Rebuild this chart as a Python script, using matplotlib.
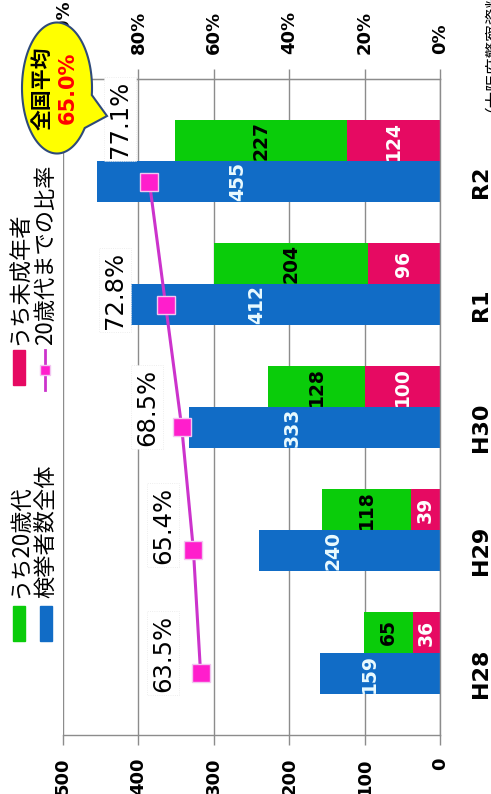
import numpy as np
import matplotlib
matplotlib.use("Agg")
import matplotlib.pyplot as plt
from matplotlib.patches import Rectangle, Polygon
from matplotlib.lines import Line2D

plt.rcParams['font.family'] = ['Noto Sans CJK JP', 'DejaVu Sans']
NUM = ['DejaVu Sans']

# ---------------- data ----------------
categories = ["H28", "H29", "H30", "R1", "R2"]
total = [159, 240, 333, 412, 455]          # 検挙者数全体
twenties = [65, 118, 128, 204, 227]        # うち20歳代
minors = [36, 39, 100, 96, 124]            # うち未成年者
ratio = [63.5, 65.4, 68.5, 72.8, 77.1]     # 20歳代までの比率 (%)
value_ticks = [0, 100, 200, 300, 400, 500]
pct_ticks = [0, 20, 40, 60, 80, 100]

# ---------------- layout / style ----------------
W, H = 491, 794
C_BLUE = '#116CC6'
C_GREEN = '#0ACC0A'
C_PINK = '#E60A62'
C_LINE = '#CC33CC'
C_MARK = '#FF1ECC'
C_GRID = '#8C8C8C'
label_dx = [10.0, 8.1, 9.2, 13.4, 7.8]
label_dy = [0.0, 0.04, 0.0, -0.05, 0.34]

fig = plt.figure(figsize=(W / 100, H / 100), dpi=100)
fig.patch.set_facecolor('white')

def fx(x):
    return x / W

def fy(y):
    return 1 - y / H

ax = fig.add_axes([fx(63), fy(735), (440 - 63) / W, (735 - 79) / H])
pos = np.arange(len(categories))
bw = 1 / 3

ax.barh(pos - bw / 2, total, height=bw, color=C_BLUE, zorder=2)
ax.barh(pos + bw / 2, minors, height=bw, color=C_PINK, zorder=2)
ax.barh(pos + bw / 2, twenties, left=minors, height=bw, color=C_GREEN, zorder=2)

ax.set_xlim(500, 0)
ax.set_ylim(-0.667, 4.667)
ax.set_xticks(value_ticks)
ax.set_xticklabels([str(v) for v in value_ticks], rotation=90, fontsize=13,
                   fontweight='bold', family=NUM)
ax.tick_params(axis='x', length=7, width=1, color=C_GRID, pad=9)
ax.xaxis.grid(True, color=C_GRID, lw=1, zorder=0)
ax.set_axisbelow(True)
ax.yaxis.tick_right()
ax.set_yticks(pos - bw / 2)
ax.set_yticklabels(categories, rotation=90, fontsize=16, fontweight='bold',
                   va='center', family=NUM)
ax.tick_params(axis='y', length=0, pad=22)
ax.spines['left'].set_visible(False)
for s in ['bottom', 'right', 'top']:
    ax.spines[s].set_color(C_GRID)
    ax.spines[s].set_linewidth(1)

# bar value labels
for i in range(len(categories)):
    ax.text(total[i] * 0.59, pos[i] - bw / 2, str(total[i]), rotation=90,
            ha='center', va='center', color='#EAFBFF', fontsize=13.5,
            fontweight='bold', family=NUM, zorder=5)
    ax.text(minors[i] / 2, pos[i] + bw / 2, str(minors[i]), rotation=90,
            ha='center', va='center', color='white', fontsize=13.5,
            fontweight='bold', family=NUM, zorder=5)
    ax.text(minors[i] + twenties[i] / 2, pos[i] + bw / 2, str(twenties[i]),
            rotation=90, ha='center', va='center', color='black',
            fontsize=13.5, fontweight='bold', family=NUM, zorder=5)

# secondary (percentage) axis
ax2 = ax.twiny()
ax2.set_xlim(100, 0)
ax2.set_xticks(pct_ticks)
ax2.set_xticklabels([f"{p}%" for p in pct_ticks], rotation=90, fontsize=13,
                    fontweight='bold', family=NUM)
ax2.tick_params(axis='x', length=7, width=1, color=C_GRID, pad=11)
for s in ['left', 'right', 'bottom']:
    ax2.spines[s].set_visible(False)
ax2.spines['top'].set_color(C_GRID)
ax2.plot(ratio, pos - bw / 2, color=C_LINE, lw=2.2, marker='s', markersize=13,
         markerfacecolor=C_MARK, markeredgecolor='#F2C6F0', markeredgewidth=1,
         zorder=6)
for i in range(len(categories)):
    ax2.text(ratio[i] + label_dx[i], pos[i] + label_dy[i], f"{ratio[i]:.1f}%",
             rotation=90, ha='center', va='center', fontsize=17.5,
             color='black', family=NUM, zorder=6,
             bbox=dict(boxstyle='square,pad=0.15', fc='white', ec='#E8E8E8',
                       lw=0.6, ls=':'))

# ---------------- legend (manual, rotated) ----------------
fig.patches.append(Rectangle((fx(13), fy(641)), 12 / W, 35 / H, color=C_GREEN,
                             transform=fig.transFigure, figure=fig))
fig.patches.append(Rectangle((fx(40), fy(641)), 12 / W, 35 / H, color=C_BLUE,
                             transform=fig.transFigure, figure=fig))
fig.patches.append(Rectangle((fx(13), fy(385)), 12 / W, 35 / H, color=C_PINK,
                             transform=fig.transFigure, figure=fig))
fig.lines.append(Line2D([fx(45), fx(45)], [fy(390), fy(350)], color=C_LINE, lw=2,
                        transform=fig.transFigure, figure=fig))
fig.lines.append(Line2D([fx(45)], [fy(370)], marker='s', markersize=7,
                        markerfacecolor=C_MARK, markeredgecolor='#F2C6F0',
                        transform=fig.transFigure, figure=fig))
fig.text(fx(20), fy(598), "うち20歳代", rotation=90, ha='center', va='bottom',
         fontsize=16)
fig.text(fx(46), fy(598), "検挙者数全体", rotation=90, ha='center', va='bottom',
         fontsize=16)
fig.text(fx(20), fy(345), "うち未成年者", rotation=90, ha='center', va='bottom',
         fontsize=16)
fig.text(fx(46), fy(345), "20歳代までの比率", rotation=90, ha='center',
         va='bottom', fontsize=16)

# ---------------- callout ----------------
cx, cy, a, b = 57, 88, 35, 65.5
tA = np.arcsin((95 - cy) / b)
tB = np.arcsin((128 - cy) / b)
ts = np.linspace(tB, tA + 2 * np.pi, 300)
pts = [(fx(cx + a * np.cos(t)), fy(cy + b * np.sin(t))) for t in ts]
pts.append((fx(107), fy(116)))
fig.patches.append(Polygon(pts, closed=True, facecolor='#FFFF00',
                           edgecolor='#2E4A7A', lw=1.5,
                           transform=fig.transFigure, figure=fig, zorder=10))
fig.text(fx(42), fy(88), "全国平均", rotation=90, ha='center', va='center',
         fontsize=15, fontweight='bold', color='black', zorder=11)
fig.text(fx(68), fy(88), "65.0%", rotation=90, ha='center', va='center',
         fontsize=15, fontweight='bold', color='#FF0000', family=NUM, zorder=11)

# source
fig.text(fx(483), fy(112), "（大阪府警察資料）", rotation=90, ha='center',
         va='bottom', fontsize=12)

fig.savefig("out.png", dpi=100)
